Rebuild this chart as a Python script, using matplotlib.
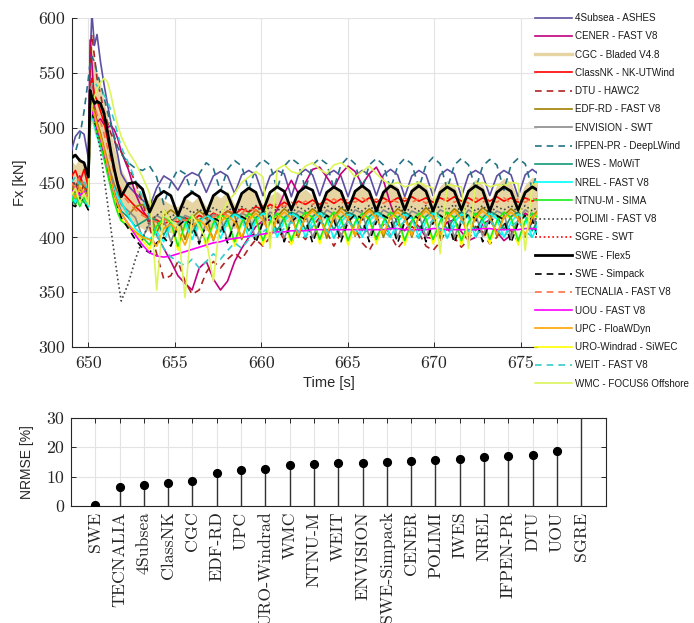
import matplotlib
matplotlib.use("Agg")
import matplotlib.pyplot as plt
from matplotlib.lines import Line2D

# ---------------- time grid [s] ----------------
time = [649.0, 649.25, 649.5, 649.75, 650.0,
        650.1, 650.2, 650.35, 650.5, 650.7, 650.9, 651.1, 651.3, 651.5, 651.7,
        651.90, 652.31, 652.72, 653.13, 653.54, 653.95, 654.36, 654.77, 655.18, 655.59, 656.00, 656.41,
        656.82, 657.23, 657.64, 658.05, 658.46, 658.87, 659.28, 659.69, 660.10, 660.51, 660.92, 661.33,
        661.74, 662.15, 662.56, 662.97, 663.38, 663.79, 664.20, 664.61, 665.02, 665.43, 665.84, 666.25,
        666.66, 667.07, 667.48, 667.89, 668.30, 668.71, 669.12, 669.53, 669.94, 670.35, 670.76, 671.17,
        671.58, 671.99, 672.40, 672.81, 673.22, 673.63, 674.04, 674.45, 674.86, 675.27, 675.68, 676.09]

# ---------------- Fx [kN] per participant ----------------
fx_4subsea = [478, 492, 497, 494, 472,
              560, 605, 575, 585, 560, 540, 522, 505, 490, 475,
              458, 447, 440, 434, 428, 445, 456, 452, 443, 455, 459, 456,
              441, 456, 460, 456, 440, 457, 461, 457, 438, 456, 461, 458,
              437, 457, 462, 457, 438, 457, 461, 456, 437, 456, 461, 457,
              438, 457, 462, 457, 437, 456, 461, 457, 438, 457, 462, 458,
              437, 457, 461, 457, 438, 456, 461, 457, 437, 457, 462, 457]
fx_cener = [450, 444, 456, 447, 440,
            580, 560, 520, 505, 508, 503, 500, 502, 498, 490,
            478, 462, 440, 425, 415, 402, 390, 378, 365, 358, 352, 372,
            378, 362, 352, 360, 378, 390, 400, 410, 415, 416, 425, 440,
            452, 440, 450, 462, 464, 455, 445, 458, 465, 460, 448, 458,
            464, 452, 430, 412, 406, 415, 410, 400, 399, 405, 414, 416,
            405, 397, 400, 412, 416, 405, 397, 402, 415, 422, 418, 410]
fx_cgc_upper = [470, 466, 473, 465, 460,
                565, 575, 560, 550, 540, 525, 510, 495, 482, 470,
                462, 450, 445, 440, 432, 438, 434, 430, 428, 436, 432, 438,
                428, 440, 436, 442, 430, 440, 445, 440, 430, 438, 442, 436,
                428, 440, 444, 438, 430, 442, 446, 440, 430, 443, 448, 442,
                432, 445, 450, 446, 432, 446, 452, 447, 433, 447, 452, 448,
                432, 446, 453, 448, 432, 448, 454, 450, 434, 448, 455, 450]
fx_cgc_lower = [432, 428, 436, 431, 428,
                498, 505, 495, 490, 484, 470, 460, 448, 440, 432,
                426, 418, 412, 408, 405, 404, 406, 404, 405, 407, 405, 408,
                406, 409, 407, 410, 408, 411, 410, 413, 411, 414, 412, 415,
                413, 416, 414, 416, 414, 417, 415, 417, 415, 418, 416, 418,
                416, 418, 416, 419, 416, 418, 417, 419, 416, 418, 417, 419,
                416, 418, 417, 419, 416, 418, 417, 419, 417, 418, 416, 419]
fx_classnk = [455, 461, 450, 462, 445,
              535, 545, 530, 525, 515, 505, 490, 475, 462, 450,
              442, 435, 428, 422, 418, 416, 412, 416, 414, 418, 415, 420,
              417, 422, 419, 424, 421, 426, 423, 428, 425, 430, 427, 432,
              428, 433, 430, 434, 430, 435, 431, 435, 431, 436, 432, 436,
              432, 436, 432, 436, 433, 437, 433, 436, 432, 436, 433, 437,
              433, 436, 432, 436, 433, 437, 433, 436, 432, 436, 433, 436]
fx_dtu = [445, 452, 440, 448, 438,
          560, 585, 565, 545, 530, 515, 505, 495, 488, 482,
          478, 465, 450, 432, 410, 385, 362, 365, 378, 360, 348, 352,
          368, 378, 372, 380, 386, 380, 390, 398, 392, 400, 408, 398,
          395, 405, 398, 410, 418, 405, 392, 404, 415, 408, 395, 388,
          400, 412, 402, 390, 398, 410, 404, 392, 388, 396, 408, 400,
          391, 398, 410, 405, 394, 400, 412, 406, 396, 402, 414, 405]
fx_edf = [448, 440, 452, 445, 438,
          515, 525, 515, 505, 495, 482, 470, 458, 448, 440,
          432, 420, 428, 430, 424, 404, 420, 425, 420, 398, 418, 424,
          419, 397, 417, 424, 420, 398, 418, 425, 420, 399, 419, 426,
          421, 400, 420, 426, 421, 399, 419, 427, 422, 401, 420, 426,
          421, 400, 419, 426, 422, 400, 420, 427, 421, 399, 419, 426,
          421, 400, 420, 427, 422, 401, 420, 426, 421, 400, 419, 426]
fx_envision = [440, 435, 445, 438, 432,
               510, 520, 510, 500, 492, 480, 468, 456, 446, 438,
               430, 424, 418, 400, 412, 420, 416, 396, 412, 420, 417, 396,
               413, 421, 418, 397, 414, 422, 419, 398, 415, 423, 420, 399,
               416, 424, 421, 400, 416, 425, 421, 400, 417, 425, 422, 401,
               417, 425, 421, 400, 416, 424, 421, 400, 417, 425, 422, 400,
               416, 425, 421, 401, 417, 424, 421, 400, 416, 425, 421, 400]
fx_ifpen = [470, 478, 492, 515, 545,
            560, 565, 560, 550, 540, 528, 515, 502, 492, 482,
            476, 468, 463, 461, 465, 455, 430, 450, 462, 458, 440, 458,
            468, 463, 442, 462, 470, 465, 443, 464, 471, 466, 444, 465,
            472, 467, 444, 466, 472, 467, 445, 466, 473, 467, 444, 466,
            472, 466, 444, 465, 472, 467, 445, 466, 473, 467, 444, 466,
            472, 466, 444, 465, 471, 466, 443, 466, 472, 467, 444, 466]
fx_iwes = [435, 430, 440, 432, 428,
           515, 520, 510, 498, 488, 475, 462, 450, 440, 432,
           424, 418, 410, 414, 418, 415, 402, 414, 420, 417, 404, 416,
           421, 418, 405, 417, 422, 419, 406, 418, 423, 419, 406, 418,
           423, 420, 407, 419, 424, 420, 407, 418, 423, 420, 406, 419,
           424, 420, 407, 418, 423, 419, 406, 419, 424, 420, 407, 418,
           423, 420, 406, 418, 424, 420, 407, 419, 423, 419, 406, 418]
fx_nrel = [438, 432, 440, 435, 428,
           505, 512, 502, 492, 482, 472, 462, 452, 444, 437,
           432, 420, 408, 402, 398, 405, 396, 412, 418, 414, 398, 413,
           420, 416, 399, 414, 421, 417, 400, 415, 422, 418, 400, 415,
           422, 418, 400, 415, 422, 417, 399, 414, 421, 418, 400, 415,
           422, 418, 400, 414, 421, 417, 400, 415, 422, 418, 399, 414,
           421, 418, 400, 415, 422, 417, 400, 414, 421, 418, 400, 415]
fx_ntnu = [432, 440, 428, 436, 430,
           508, 515, 505, 495, 485, 472, 458, 445, 432, 422,
           415, 410, 405, 400, 393, 410, 418, 414, 392, 412, 420, 415,
           395, 413, 421, 416, 396, 414, 422, 417, 397, 414, 422, 417,
           397, 415, 423, 418, 398, 415, 423, 417, 397, 414, 422, 417,
           398, 415, 423, 418, 397, 415, 422, 417, 398, 415, 423, 418,
           397, 414, 422, 417, 398, 415, 423, 418, 397, 415, 422, 417]
fx_polimi = [445, 450, 440, 448, 438,
             520, 525, 510, 495, 478, 455, 432, 408, 385, 362,
             342, 358, 380, 398, 415, 420, 425, 418, 424, 428, 422, 426,
             420, 427, 423, 428, 421, 428, 424, 429, 422, 428, 424, 429,
             422, 428, 424, 429, 423, 429, 425, 429, 422, 428, 424, 429,
             423, 429, 425, 429, 422, 428, 424, 429, 423, 429, 425, 430,
             423, 429, 424, 429, 422, 428, 425, 429, 423, 429, 424, 429]
# SGRE - SWT: no curve visible inside the plotted range
time_sgre = []
fx_sgre = []
fx_flex5 = [472, 475, 470, 468, 455,
            534, 528, 522, 524, 522, 513, 497, 478, 462, 448,
            437, 449, 450, 444, 423, 437, 442, 438, 420, 436, 441, 437,
            421, 438, 443, 439, 423, 440, 445, 441, 424, 441, 446, 442,
            425, 441, 446, 443, 424, 441, 446, 442, 425, 442, 447, 442,
            424, 441, 447, 443, 425, 442, 447, 442, 424, 441, 446, 442,
            425, 442, 447, 443, 424, 441, 446, 442, 425, 441, 446, 442]
fx_simpack = [430, 428, 436, 432, 425,
              520, 515, 505, 500, 490, 478, 465, 452, 440, 428,
              418, 408, 398, 390, 386, 395, 400, 392, 410, 416, 412, 394,
              412, 418, 414, 395, 413, 419, 415, 395, 414, 420, 416, 396,
              414, 420, 416, 395, 413, 420, 416, 396, 414, 421, 417, 396,
              414, 420, 416, 395, 414, 421, 417, 396, 413, 420, 416, 395,
              414, 421, 417, 396, 414, 420, 416, 395, 413, 420, 416, 396]
fx_tecnalia = [450, 445, 455, 448, 440,
               520, 530, 520, 512, 505, 495, 482, 470, 458, 448,
               440, 432, 425, 420, 416, 414, 417, 413, 418, 415, 419, 416,
               421, 418, 423, 420, 425, 422, 427, 424, 429, 426, 431, 428,
               432, 429, 433, 430, 434, 431, 435, 431, 435, 432, 436, 432,
               435, 431, 435, 432, 436, 432, 435, 431, 435, 432, 436, 432,
               435, 431, 436, 432, 435, 432, 436, 431, 435, 432, 436, 432]
fx_uou = [440, 445, 438, 442, 432,
          505, 515, 510, 500, 490, 478, 465, 452, 440, 430,
          422, 412, 402, 393, 386, 383, 382, 383, 385, 387, 389, 391,
          393, 395, 396, 398, 399, 400, 401, 402, 403, 404, 405, 405,
          406, 406, 406, 407, 407, 407, 407, 407, 407, 407, 407, 407,
          407, 407, 408, 408, 407, 407, 407, 407, 408, 408, 407, 407,
          407, 407, 407, 408, 408, 407, 407, 407, 407, 408, 408, 407]
fx_upc = [442, 436, 446, 440, 434,
          512, 520, 512, 502, 492, 480, 466, 452, 440, 430,
          422, 412, 405, 400, 398, 392, 408, 412, 406, 393, 410, 416,
          410, 398, 414, 420, 414, 400, 416, 422, 416, 402, 417, 423,
          417, 403, 418, 424, 418, 403, 418, 424, 417, 402, 418, 424,
          418, 403, 418, 423, 417, 402, 418, 424, 418, 403, 418, 424,
          417, 402, 418, 424, 418, 403, 418, 423, 417, 402, 418, 424]
fx_uro = [438, 430, 442, 436, 428,
          510, 518, 508, 498, 488, 476, 462, 448, 436, 426,
          417, 409, 403, 397, 389, 409, 417, 413, 388, 411, 419, 414,
          391, 412, 420, 415, 392, 413, 421, 416, 393, 413, 421, 416,
          393, 414, 422, 417, 394, 414, 422, 416, 393, 413, 421, 416,
          394, 414, 422, 417, 393, 414, 421, 416, 394, 414, 422, 417,
          393, 413, 421, 416, 394, 414, 422, 417, 393, 414, 421, 416]
fx_weit = [450, 455, 448, 452, 440,
           530, 540, 542, 538, 534, 530, 524, 516, 506, 494,
           482, 468, 452, 436, 418, 402, 390, 382, 378, 374, 380, 372,
           378, 385, 380, 388, 395, 390, 398, 402, 405, 410, 402, 408,
           414, 405, 400, 410, 416, 406, 400, 409, 415, 407, 401, 410,
           416, 406, 400, 408, 415, 406, 399, 409, 416, 407, 400, 410,
           415, 406, 401, 409, 416, 407, 400, 410, 415, 406, 400, 409]
fx_wmc = [438, 445, 432, 440, 430,
          505, 520, 528, 535, 541, 545, 542, 530, 515, 502,
          492, 478, 468, 455, 440, 352, 425, 415, 410, 345, 420, 410,
          398, 360, 420, 432, 440, 450, 455, 460, 455, 390, 462, 466,
          460, 458, 465, 468, 462, 458, 466, 468, 463, 455, 460, 465,
          458, 452, 448, 450, 446, 448, 450, 447, 445, 385, 448, 447,
          446, 390, 449, 450, 446, 448, 447, 450, 449, 388, 448, 450]

# ---------------- NRMSE [%] ----------------
nrmse_names = ["SWE", "TECNALIA", "4Subsea", "ClassNK", "CGC", "EDF-RD", "UPC",
               "URO-Windrad", "WMC", "NTNU-M", "WEIT", "ENVISION", "SWE-Simpack",
               "CENER", "POLIMI", "IWES", "NREL", "IFPEN-PR", "DTU", "UOU", "SGRE"]
nrmse_values = [0.2, 6.3, 7.3, 7.9, 8.4, 11.2, 12.3, 12.6, 13.8, 14.2, 14.5, 14.7,
                14.9, 15.2, 15.5, 16.0, 16.8, 16.9, 17.3, 18.7, 40.0]

# ---------------- styling ----------------
SANS = "Liberation Sans"
SERIF = "cmr10"
TXT = "#262626"
GRID = "#E3E3E3"

fig = plt.figure(figsize=(6.94, 6.23), dpi=100)

# ===== top: time series =====
ax = fig.add_axes([0.1037, 0.4430, 0.6700, 0.5281])
ax.set_axisbelow(True)
ax.grid(True, color=GRID, lw=0.8)

series = [
    ("4Subsea - ASHES", fx_4subsea, dict(color="#5E4FA2", ls="-")),
    ("CENER - FAST V8", fx_cener, dict(color="#C2007E", ls="-")),
    ("CGC - Bladed V4.8", None, dict(color="#E6D5A3", ls="-", lw=2.4)),
    ("ClassNK - NK-UTWind", fx_classnk, dict(color="#FF0000", ls="-")),
    ("DTU - HAWC2", fx_dtu, dict(color="#B02222", ls=(0, (4, 3)))),
    ("EDF-RD - FAST V8", fx_edf, dict(color="#9E7F00", ls="-")),
    ("ENVISION - SWT", fx_envision, dict(color="#8A8A8A", ls="-")),
    ("IFPEN-PR - DeepLWind", fx_ifpen, dict(color="#237384", ls=(0, (4, 3)))),
    ("IWES - MoWiT", fx_iwes, dict(color="#129A78", ls="-")),
    ("NREL - FAST V8", fx_nrel, dict(color="#00FFFF", ls="-")),
    ("NTNU-M - SIMA", fx_ntnu, dict(color="#19EE19", ls="-")),
    ("POLIMI - FAST V8", fx_polimi, dict(color="#444444", ls=(0, (1, 1.6)))),
    ("SGRE - SWT", fx_sgre, dict(color="#FF0000", ls=(0, (1, 1.6)))),
    ("SWE - Flex5", fx_flex5, dict(color="#000000", ls="-", lw=2.0)),
    ("SWE - Simpack", fx_simpack, dict(color="#000000", ls=(0, (4, 3)))),
    ("TECNALIA - FAST V8", fx_tecnalia, dict(color="#FF7043", ls=(0, (4, 3)))),
    ("UOU - FAST V8", fx_uou, dict(color="#FF00FF", ls="-")),
    ("UPC - FloaWDyn", fx_upc, dict(color="#FFA500", ls="-")),
    ("URO-Windrad - SiWEC", fx_uro, dict(color="#FFFF00", ls="-")),
    ("WEIT - FAST V8", fx_weit, dict(color="#33CCCC", ls=(0, (4, 3)))),
    ("WMC - FOCUS6 Offshore", fx_wmc, dict(color="#DDF55A", ls="-")),
]

handles = []
for i, (name, vals, st) in enumerate(series):
    lw = st.get("lw", 1.2)
    z = 3 + i * 0.01
    if name.startswith("CGC"):
        ax.fill_between(time, fx_cgc_lower, fx_cgc_upper, color=st["color"], lw=0, zorder=2.5)
        h = Line2D([], [], color=st["color"], lw=lw, ls="-")
    elif name.startswith("SGRE"):
        (h,) = ax.plot(time_sgre, fx_sgre, color=st["color"], ls=st["ls"], lw=lw)
    else:
        if name == "SWE - Flex5":
            z = 4
        if name.startswith("URO"):
            z = 3.05
        (h,) = ax.plot(time, vals, color=st["color"], ls=st["ls"], lw=lw, zorder=z)
    handles.append((h, name))

ax.set_xlim(649.05, 675.95)
ax.set_ylim(300, 600)
ax.set_xticks([650, 655, 660, 665, 670, 675])
ax.set_yticks([300, 350, 400, 450, 500, 550, 600])
for s in ["top", "right"]:
    ax.spines[s].set_visible(False)
for s in ["left", "bottom"]:
    ax.spines[s].set_color(TXT)
    ax.spines[s].set_linewidth(0.8)
ax.tick_params(direction="in", length=3.6, width=0.7, colors=TXT, labelsize=12.8)
ax.tick_params(axis="x", pad=6)
ax.tick_params(axis="y", pad=5)
for lbl in ax.get_xticklabels() + ax.get_yticklabels():
    lbl.set_fontfamily(SERIF)
ax.set_xlabel("Time [s]", fontfamily=SANS, fontsize=10.5, color=TXT)
ax.xaxis.set_label_coords((329 - 72) / 465, -0.088)
ax.set_ylabel("Fx [kN]", fontfamily=SANS, fontsize=10.5, color=TXT)
ax.yaxis.set_label_coords(-0.097, 0.5)

fig.legend([h for h, _ in handles], [n for _, n in handles],
           loc="upper left", bbox_to_anchor=(535 / 694, 1 - 13 / 623),
           frameon=False, borderpad=0, borderaxespad=0,
           prop={"family": SANS, "size": 7.1}, labelcolor="#1a1a1a",
           handlelength=3.75, handletextpad=0.35, labelspacing=0.84)

# ===== bottom: NRMSE stems =====
bx = fig.add_axes([0.1023, 0.1878, 0.7702, 0.1417])
bx.set_axisbelow(True)
bx.grid(True, color=GRID, lw=0.8)
xpos = list(range(1, len(nrmse_names) + 1))
bx.vlines(xpos, 0, nrmse_values, color="#333333", lw=1.0, zorder=3)
bx.plot(xpos, nrmse_values, "o", color="black", ms=5.6, zorder=4)
bx.set_xlim(0, 22)
bx.set_ylim(0, 30)
bx.set_yticks([0, 10, 20, 30])
bx.set_xticks(xpos)
bx.set_xticklabels(nrmse_names, rotation=90)
for s in bx.spines.values():
    s.set_color(TXT)
    s.set_linewidth(0.8)
bx.tick_params(direction="in", length=3.6, width=0.7, colors=TXT, labelsize=12.8,
               top=True, right=True)
bx.tick_params(axis="x", pad=4)
bx.tick_params(axis="y", pad=5)
for lbl in bx.get_xticklabels() + bx.get_yticklabels():
    lbl.set_fontfamily(SERIF)
bx.set_ylabel("NRMSE [%]", fontfamily=SANS, fontsize=10, color=TXT)
bx.yaxis.set_label_coords(-0.069, 0.5)

fig.savefig("out.png", dpi=100)
